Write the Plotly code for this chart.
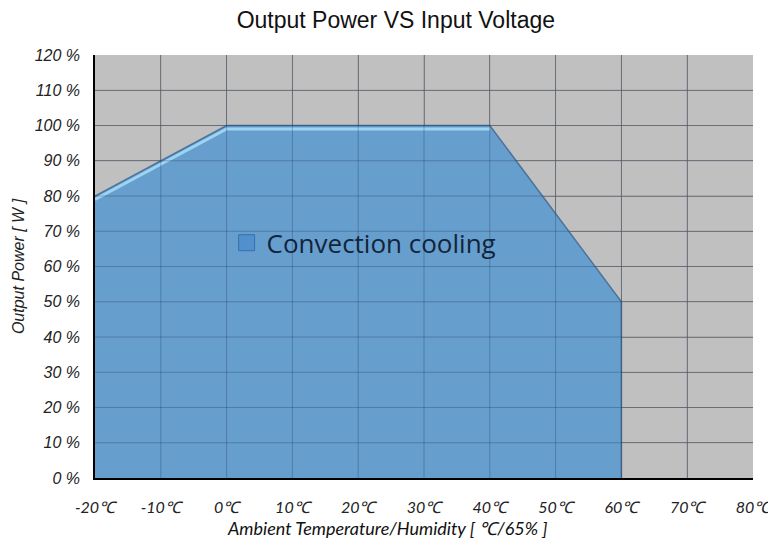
import plotly.graph_objects as go

temps = [-20, 0, 40, 60, 60]
power = [80, 100, 100, 50, 0]
x_ticks = [-20, -10, 0, 10, 20, 30, 40, 50, 60, 70, 80]
x_labels = [f"{t}℃" for t in x_ticks]
y_ticks = [0, 10, 20, 30, 40, 50, 60, 70, 80, 90, 100, 110, 120]
y_labels = [f"{v} %" for v in y_ticks]

fig = go.Figure()
fig.add_trace(go.Scatter(
    x=temps, y=power, mode="lines", fill="tozeroy",
    fillcolor="rgb(102,158,206)",
    line=dict(color="rgba(70,110,150,0.9)", width=1.5),
    name="Convection cooling", showlegend=False,
))
# highlight on the top edge
fig.add_trace(go.Scatter(
    x=temps[:3], y=[p - 1 for p in power[:3]], mode="lines",
    line=dict(color="#9fd3f2", width=3), showlegend=False, hoverinfo="skip",
))
# legend-only entry
fig.add_trace(go.Scatter(
    x=[None], y=[None], mode="markers", name="Convection cooling",
    marker=dict(symbol="square", size=16, color="rgb(80,145,205)",
                line=dict(color="rgb(60,110,170)", width=1)),
))

# grid drawn above the fill
for xv in x_ticks[1:-1]:
    fig.add_shape(type="line", x0=xv, x1=xv, y0=0, y1=120, xref="x", yref="y",
                  line=dict(color="rgba(20,40,70,0.28)", width=1), layer="above")
for yv in y_ticks[1:-1]:
    fig.add_shape(type="line", x0=-20, x1=80, y0=yv, y1=yv, xref="x", yref="y",
                  line=dict(color="rgba(20,40,70,0.28)", width=1), layer="above")

fig.add_annotation(text="Ambient Temperature/Humidity [ ℃/65% ]",
                   xref="paper", yref="paper", x=0.445, y=-0.118,
                   xanchor="center", yanchor="middle", showarrow=False,
                   font=dict(family="Lato, Open Sans, sans-serif", size=18, color="#111", style="italic"))

fig.update_layout(
    width=768, height=534,
    margin=dict(l=87, r=23, t=47, b=64),
    paper_bgcolor="white", plot_bgcolor="#c0c0c0",
    title=dict(text="Output Power VS Input Voltage", x=0.505, xanchor="center",
               yref="container", y=0.977, yanchor="middle",
               font=dict(family="Liberation Sans Narrow, Liberation Sans, Arial", size=23, color="#111")),
    legend=dict(x=0.2, y=0.556, xanchor="left", yanchor="middle",
                bgcolor="rgba(0,0,0,0)",
                font=dict(family="Open Sans, Lato, sans-serif", size=26, color="#14243a")),
    xaxis=dict(range=[-20, 80], tickvals=x_ticks, ticktext=x_labels,
               showgrid=True, gridcolor="#8a8a8a", gridwidth=1,
               showline=True, linecolor="black", linewidth=1.5,
               zeroline=False, ticks="", automargin=False, ticklabelstandoff=14,
               tickfont=dict(family="Lato, Open Sans, sans-serif", size=16, color="#222", style="italic")),
    yaxis=dict(range=[0, 120], tickvals=y_ticks, ticktext=y_labels,
               showgrid=True, gridcolor="#8a8a8a", gridwidth=1,
               showline=True, linecolor="black", linewidth=1.5,
               zeroline=False, ticks="", automargin=False, ticklabelstandoff=10,
               tickfont=dict(family="Liberation Sans, Arial", size=16, color="#222", style="italic"),
               title=dict(text="Output Power [ W ]",
                          font=dict(family="Liberation Sans, Arial", size=16, color="#222", style="italic"),
                          standoff=6)),
)

fig.write_html("out.html")
